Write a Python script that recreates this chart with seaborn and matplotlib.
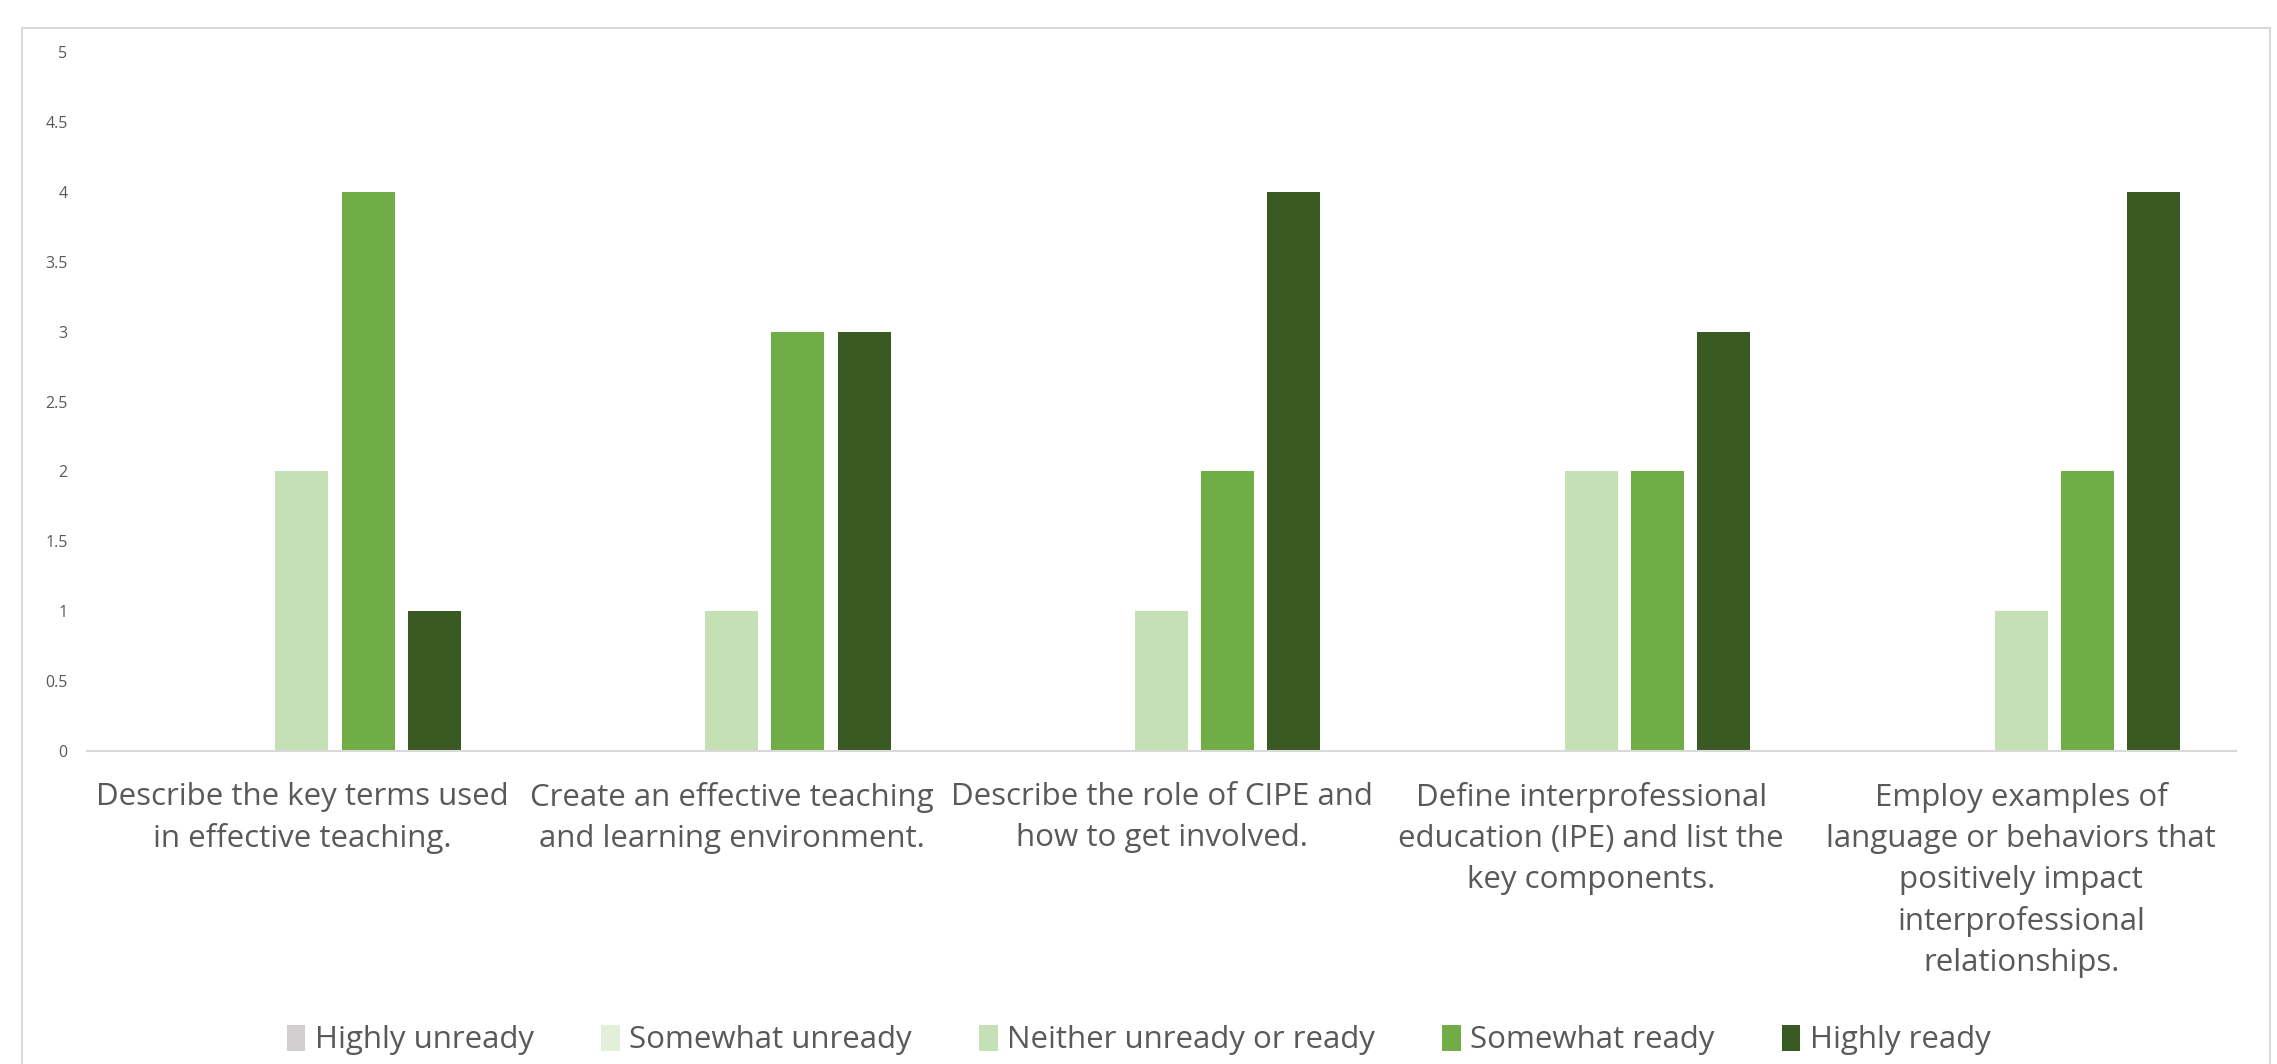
import numpy as np
import pandas as pd
import seaborn as sns
import matplotlib.pyplot as plt
from matplotlib.patches import Patch, Rectangle

# objectives (x categories)
objectives = [
    "Describe the key terms used\nin effective teaching.",
    "Create an effective teaching\nand learning environment.",
    "Describe the role of CIPE and\nhow to get involved.",
    "Define interprofessional\neducation (IPE) and list the\nkey components.",
    "Employ examples of\nlanguage or behaviors that\npositively impact\ninterprofessional\nrelationships.",
]
responses = ["Highly unready", "Somewhat unready", "Neither unready or ready",
             "Somewhat ready", "Highly ready"]

highly_unready = [0, 0, 0, 0, 0]
somewhat_unready = [0, 0, 0, 0, 0]
neither = [2, 1, 1, 2, 1]
somewhat_ready = [4, 3, 2, 2, 2]
highly_ready = [1, 3, 4, 3, 4]

colors = ["#d0cece", "#e2f0d9", "#c5e0b4", "#70ad47", "#3a5a24"]
yticks = [0, 0.5, 1, 1.5, 2, 2.5, 3, 3.5, 4, 4.5, 5]
ytick_labels = ["0", "0.5", "1", "1.5", "2", "2.5", "3", "3.5", "4", "4.5", "5"]

#%%
series = [highly_unready, somewhat_unready, neither, somewhat_ready, highly_ready]
rows = []
for resp, vals in zip(responses, series):
    for obj, v in zip(objectives, vals):
        rows.append({"objective": obj, "response": resp, "count": v})
df = pd.DataFrame(rows)

#%%
sns.set_style("white")
plt.rcParams["font.family"] = ["Open Sans", "DejaVu Sans"]

fig = plt.figure(figsize=(22.77, 10.64), dpi=100)
ax = fig.add_axes([87/2277, 1 - 751/1064, (2236-87)/2277, (751-52)/1064])

sns.barplot(data=df, x="objective", y="count", hue="response",
            order=objectives, hue_order=responses, palette=colors,
            saturation=1, width=0.77, gap=0.2, linewidth=0,
            errorbar=None, legend=False, ax=ax)

ax.set_ylim(0, 5)
ax.set_yticks(yticks)
ax.set_yticklabels(ytick_labels)
ax.set_xlabel("")
ax.set_ylabel("")
for s in ["top", "right", "left"]:
    ax.spines[s].set_visible(False)
ax.spines["bottom"].set_color("#d9d9d9")
ax.spines["bottom"].set_linewidth(1.5)
ax.tick_params(axis="y", length=0, pad=14, labelsize=11.5, labelcolor="#595959")
ax.tick_params(axis="x", length=0, pad=22, labelsize=22.5, labelcolor="#595959")
for lbl in ax.get_xticklabels():
    lbl.set_linespacing(1.48)

handles = [Patch(facecolor=c, edgecolor="none", label=r) for c, r in zip(colors, responses)]
fig.legend(handles=handles, loc="center", bbox_to_anchor=(0.5, 1 - 1040/1064),
           ncol=5, frameon=False, fontsize=22.5, handlelength=0.6, handleheight=0.9,
           handletextpad=0.3, columnspacing=2.15, labelcolor="#595959")

# outer chart border
fig.patches.append(Rectangle((22/2277, -0.05), (2270-22)/2277, (1064-28)/1064 + 0.05,
                             transform=fig.transFigure, fill=False,
                             edgecolor="#d9d9d9", linewidth=1.5))

fig.savefig("out.png", dpi=100)
